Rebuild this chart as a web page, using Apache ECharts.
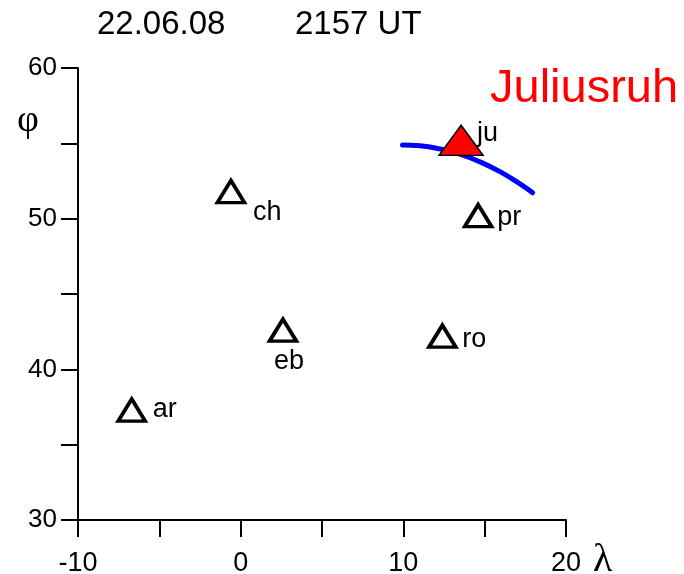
<!DOCTYPE html>
<html>
<head>
<meta charset="utf-8">
<script src="https://cdn.jsdelivr.net/npm/echarts@6/dist/echarts.min.js"></script>
<style>
html,body{margin:0;padding:0;background:#fff;}
#chart{width:684px;height:574px;}
</style>
</head>
<body>
<div id="chart"></div>
<script>
// ---- data ----
const dateText = '22.06.08';
const timeText = '2157 UT';
const refStationTitle = 'Juliusruh';
const stationNames = ['ar', 'ch', 'eb', 'ro', 'pr'];
const stationLon = [-6.7, -0.6, 2.6, 12.4, 14.6];
const stationLat = [37.3, 51.8, 42.6, 42.2, 50.2];
const refName = ['ju'];
const refLon = [13.55];
const refLat = [55.2];
const curveLon = [9.95, 11.02, 12.25, 13.48, 14.71, 15.94, 17.17, 17.95];
const curveLat = [54.89, 54.84, 54.63, 54.28, 53.77, 53.12, 52.31, 51.72];
const xTicks = [-10, 0, 10, 20];
const yTicks = [30, 40, 50, 60];

// ---- label placement (style, not data) ----
const labelOffset = {ar: [21, 0], ch: [22, 21], eb: [-9, 31], ro: [20, 3], pr: [19, 2], ju: [16, -7]};

const FONT = 'Liberation Sans';
const chart = echarts.init(document.getElementById('chart'));

function lbl(name) {
  return {
    show: true, position: 'inside', align: 'left', verticalAlign: 'middle',
    offset: labelOffset[name], formatter: name,
    color: '#000', fontSize: 27, fontFamily: FONT
  };
}

const stationData = stationNames.map((n, i) => ({value: [stationLon[i], stationLat[i]], name: n, label: lbl(n)}));
const refData = refName.map((n, i) => ({value: [refLon[i], refLat[i]], name: n, label: lbl(n)}));
const curveData = curveLon.map((v, i) => [v, curveLat[i]]);

const axisCommon = {
  type: 'value', interval: 5,
  axisLine: {show: true, onZero: false, lineStyle: {color: '#000', width: 2}},
  axisTick: {show: true, length: 17, lineStyle: {color: '#000', width: 2}},
  splitLine: {show: false}
};

const option = {
  animation: false,
  backgroundColor: '#fff',
  title: [
    {text: dateText, left: 97, top: 8, padding: 0, textStyle: {fontSize: 33, fontWeight: 'normal', color: '#000', fontFamily: FONT}},
    {text: timeText, left: 295, top: 8, padding: 0, textStyle: {fontSize: 33, fontWeight: 'normal', color: '#000', fontFamily: FONT}},
    {text: refStationTitle, left: 490, top: 66, padding: 0, textStyle: {fontSize: 47, fontWeight: 'normal', color: '#ff0000', fontFamily: FONT}}
  ],
  grid: {left: 78, right: 118, top: 68, bottom: 54, containLabel: false, outerBoundsMode: 'none'},
  xAxis: Object.assign({}, axisCommon, {
    min: -10, max: 20,
    axisLabel: {margin: 30, fontSize: 27, color: '#000', fontFamily: FONT,
      formatter: v => xTicks.indexOf(v) >= 0 ? String(v) : ''}
  }),
  yAxis: Object.assign({}, axisCommon, {
    min: 30, max: 60,
    axisLabel: {margin: 21, fontSize: 26, color: '#000', fontFamily: FONT,
      formatter: v => yTicks.indexOf(v) >= 0 ? String(v) : ''}
  }),
  graphic: [
    {type: 'text', left: 17, top: 102, style: {text: 'φ', font: '38px "Liberation Serif"', fill: '#000'}},
    {type: 'text', left: 593, top: 540, style: {text: 'λ', font: '40px "Liberation Serif"', fill: '#000'}}
  ],
  series: [
    {
      type: 'line', data: curveData, smooth: true, showSymbol: false, z: 2,
      lineStyle: {color: '#0000ff', width: 5, cap: 'round'}
    },
    {
      type: 'scatter', data: stationData, symbol: 'triangle', symbolSize: [27, 22], z: 3,
      itemStyle: {color: '#fff', borderColor: '#000', borderWidth: 3.6, opacity: 1}
    },
    {
      type: 'scatter', data: refData, symbol: 'triangle', symbolSize: [44, 30], z: 4,
      itemStyle: {color: '#ff0000', borderColor: '#000', borderWidth: 1.5, opacity: 1}
    }
  ]
};
chart.setOption(option);
</script>
</body>
</html>
